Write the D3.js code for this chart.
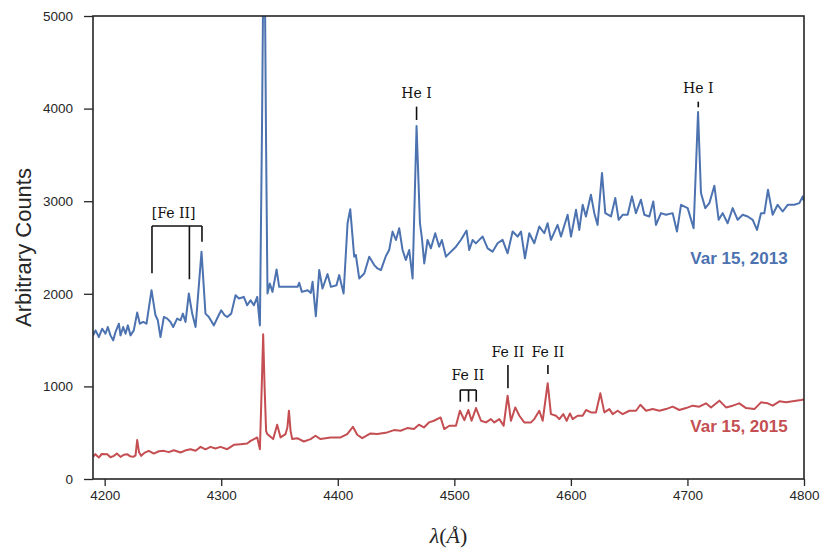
<!DOCTYPE html>
<html>
<head>
	<meta charset="utf-8">
	<title>Var 15 spectra</title>
	<script src="https://cdn.jsdelivr.net/npm/d3@7"></script>
	<style>
		body { margin: 0; background: #fff; }
		svg { display: block; }
	</style>
</head>
<body>
	<div id="chart"></div>
	<script>

		// data

		const wl2013 = [4190.1, 4192.2, 4195.0, 4197.9, 4200.7, 4202.7, 4205.0, 4207.3, 4209.3, 4212.2, 4213.6, 4215.9, 4217.9, 4219.9, 4222.2, 4225.0, 4227.9, 4230.2, 4233.1, 4235.9, 4240.2, 4243.6, 4245.6, 4247.9, 4250.8, 4253.7, 4256.5, 4258.8, 4262.2, 4265.1, 4267.1, 4269.4, 4272.2, 4275.1, 4278.0, 4283.1, 4286.5, 4289.4, 4293.7, 4297.1, 4300.0, 4302.9, 4305.1, 4308.6, 4312.3, 4315.2, 4319.4, 4322.3, 4325.2, 4328.0, 4330.9, 4333.2, 4335.0, 4336.0, 4337.5, 4338.5, 4339.7, 4341.7, 4344.0, 4347.5, 4349.7, 4365.5, 4366.9, 4369.2, 4374.1, 4376.9, 4378.4, 4381.2, 4384.1, 4386.9, 4391.2, 4394.1, 4398.9, 4401.2, 4405.0, 4408.4, 4410.7, 4414.1, 4415.5, 4418.4, 4422.7, 4427.0, 4431.3, 4434.1, 4437.0, 4441.3, 4444.1, 4447.0, 4449.9, 4452.7, 4455.6, 4458.4, 4461.3, 4464.2, 4467.6, 4470.5, 4472.2, 4474.2, 4477.0, 4479.9, 4483.6, 4487.0, 4489.3, 4492.8, 4495.6, 4501.4, 4505.6, 4510.5, 4512.8, 4515.7, 4518.5, 4521.4, 4524.3, 4528.6, 4532.8, 4537.1, 4541.4, 4545.7, 4550.0, 4554.3, 4557.2, 4560.6, 4564.3, 4568.6, 4572.9, 4577.2, 4580.0, 4582.9, 4588.6, 4591.5, 4597.2, 4600.1, 4604.4, 4607.2, 4610.1, 4612.9, 4617.2, 4620.1, 4622.9, 4626.7, 4629.5, 4634.4, 4638.1, 4641.0, 4644.4, 4648.7, 4652.4, 4655.8, 4660.1, 4663.0, 4667.3, 4670.7, 4673.0, 4677.3, 4681.6, 4687.3, 4691.0, 4694.5, 4700.2, 4705.3, 4709.1, 4711.6, 4715.3, 4718.8, 4723.1, 4726.8, 4730.2, 4734.5, 4738.8, 4743.1, 4747.4, 4751.7, 4756.0, 4759.7, 4763.1, 4766.0, 4769.1, 4773.1, 4777.4, 4781.7, 4786.0, 4791.7, 4796.0, 4798.9, 4800.0];
		const flux2013 = [1551, 1605, 1533, 1623, 1569, 1641, 1551, 1497, 1587, 1677, 1551, 1641, 1569, 1659, 1551, 1605, 1797, 1677, 1696, 1677, 2039, 1768, 1714, 1533, 1750, 1732, 1696, 1641, 1732, 1714, 1786, 1696, 2003, 1786, 1641, 2455, 1786, 1750, 1659, 1750, 1822, 1768, 1750, 1786, 1985, 1949, 1967, 1876, 1931, 1876, 1967, 1659, 3800, 5300, 5300, 3600, 2003, 2111, 2021, 2263, 2075, 2075, 2119, 2021, 2039, 2010, 2130, 1757, 2256, 2057, 2213, 2075, 2093, 2202, 2003, 2762, 2914, 2401, 2419, 2166, 2220, 2401, 2310, 2274, 2256, 2408, 2473, 2672, 2581, 2708, 2473, 2365, 2473, 2166, 3811, 2762, 2600, 2328, 2581, 2491, 2654, 2509, 2581, 2401, 2437, 2509, 2581, 2683, 2473, 2581, 2545, 2582, 2618, 2491, 2455, 2546, 2582, 2437, 2672, 2618, 2672, 2383, 2654, 2546, 2726, 2654, 2762, 2582, 2744, 2618, 2853, 2618, 2907, 2690, 2961, 2835, 3070, 2871, 2744, 3305, 2871, 2835, 3034, 2799, 2853, 2853, 3052, 2871, 3016, 2853, 2835, 2997, 2744, 2871, 2853, 2871, 2672, 2961, 2925, 2708, 3963, 3088, 2925, 2979, 3167, 2799, 2871, 2762, 2925, 2799, 2853, 2835, 2799, 2690, 2871, 2871, 3124, 2853, 2961, 2889, 2961, 2961, 2979, 3052, 3000];

		const wl2015 = [4190.1, 4192.0, 4195.0, 4197.5, 4202.2, 4205.0, 4207.9, 4210.5, 4213.6, 4216.5, 4219.3, 4222.0, 4224.5, 4226.5, 4227.9, 4229.5, 4231.3, 4234.5, 4237.9, 4242.2, 4246.5, 4250.8, 4255.0, 4259.4, 4265.1, 4269.5, 4273.7, 4278.0, 4282.3, 4286.5, 4290.8, 4295.0, 4299.4, 4305.1, 4310.9, 4316.6, 4322.3, 4325.2, 4330.9, 4333.2, 4335.0, 4336.0, 4337.2, 4338.5, 4339.5, 4344.6, 4348.0, 4350.9, 4355.2, 4356.8, 4358.1, 4359.5, 4360.9, 4365.2, 4370.9, 4376.7, 4380.9, 4385.2, 4393.8, 4402.4, 4408.1, 4413.0, 4416.7, 4421.0, 4428.1, 4433.9, 4442.4, 4448.2, 4453.9, 4459.6, 4465.3, 4469.6, 4473.9, 4478.2, 4482.5, 4488.2, 4491.4, 4495.7, 4501.4, 4504.8, 4508.6, 4512.0, 4514.8, 4518.6, 4522.9, 4527.1, 4531.4, 4534.3, 4538.6, 4542.3, 4545.7, 4548.6, 4552.3, 4555.8, 4560.0, 4565.8, 4568.6, 4572.9, 4575.8, 4580.1, 4582.9, 4587.2, 4590.1, 4593.5, 4596.4, 4599.2, 4601.5, 4605.8, 4610.1, 4613.0, 4617.3, 4621.5, 4625.3, 4628.7, 4633.0, 4635.9, 4640.1, 4644.4, 4650.2, 4655.9, 4659.6, 4664.5, 4670.2, 4675.9, 4681.6, 4687.3, 4693.1, 4698.8, 4704.5, 4710.2, 4715.9, 4720.2, 4727.4, 4733.1, 4738.8, 4744.5, 4750.3, 4757.4, 4763.1, 4768.9, 4773.2, 4778.9, 4784.6, 4790.3, 4797.4, 4800.0];
		const flux2015 = [239, 268, 232, 270, 268, 235, 250, 275, 239, 262, 268, 245, 239, 255, 420, 290, 250, 285, 304, 275, 300, 304, 290, 311, 286, 310, 322, 305, 347, 320, 347, 330, 347, 322, 369, 376, 384, 412, 449, 322, 1100, 1562, 1000, 520, 485, 431, 586, 449, 485, 560, 738, 520, 431, 441, 405, 431, 467, 431, 449, 449, 485, 564, 478, 441, 492, 485, 503, 528, 521, 550, 539, 586, 557, 611, 629, 665, 539, 575, 575, 737, 636, 745, 629, 766, 629, 611, 647, 611, 647, 575, 900, 629, 773, 683, 611, 611, 647, 737, 629, 1034, 701, 683, 647, 701, 629, 708, 647, 683, 683, 745, 719, 719, 925, 719, 755, 701, 737, 701, 737, 737, 802, 737, 755, 737, 755, 781, 745, 766, 792, 781, 817, 773, 846, 773, 792, 817, 766, 755, 828, 817, 792, 839, 828, 839, 853, 860];

		const xTicks = [4200, 4300, 4400, 4500, 4600, 4700, 4800];
		const yTicks = [0, 1000, 2000, 3000, 4000, 5000];

		// line identifications: label, wavelengths of the marks, mark top / bottom, label baseline
		const lineLabels = ["[Fe II]", "He I", "He I", "Fe II", "Fe II", "Fe II"];
		const lineWaves = [[4240.6, 4272.7, 4283.5], [4467.6], [4709.3], [4505.1, 4512.2, 4518.8], [4546.0], [4580.3]];
		const lineTops = [2732, 4021, 4075, 961, 1231, 1231];
		const lineBottoms = [[2222, 2157, 2563], [3877], [4014], [835, 835, 835], [980], [1134]];
		const lineTextY = [2819, 4115, 4169, 1069, 1318, 1318];
		const lineTextX = [4259.2, 4467.6, 4709.3, 4511.6, 4546.0, 4580.3];

		const seriesNames = ["Var 15, 2013", "Var 15, 2015"];
		const seriesLabelY = [2322, 508];

		const width = 830;
		const height = 560;
		const margin = {top: 16, right: 26, bottom: 81, left: 93};
		const blue = "#4c72b0";
		const red = "#c44e52";
		const ink = "#262626";

		const x = d3.scaleLinear().domain([4190, 4800]).range([margin.left, width - margin.right]);
		const y = d3.scaleLinear().domain([0, 5000]).range([height - margin.bottom, margin.top]);

		const svg = d3.select("#chart").append("svg")
			.attr("width", width)
			.attr("height", height)
			.attr("font-family", "'Liberation Sans', Arial, sans-serif");

		svg.append("clipPath").attr("id", "plot-clip")
			.append("rect")
			.attr("x", margin.left).attr("y", margin.top)
			.attr("width", width - margin.left - margin.right)
			.attr("height", height - margin.top - margin.bottom);

		const line = d3.line().x(d => x(d[0])).y(d => y(d[1]));

		const series = [
			{ pts: d3.zip(wl2013, flux2013), color: blue },
			{ pts: d3.zip(wl2015, flux2015), color: red },
		];

		svg.append("g")
			.attr("clip-path", "url(#plot-clip)")
			.selectAll("path")
			.data(series)
			.join("path")
			.attr("fill", "none")
			.attr("stroke", d => d.color)
			.attr("stroke-width", 2)
			.attr("stroke-linejoin", "round")
			.attr("d", d => line(d.pts));

		// axes
		const xAxis = svg.append("g")
			.attr("transform", `translate(0,${y(0)})`)
			.call(d3.axisBottom(x).tickValues(xTicks).tickFormat(d3.format("d")).tickSize(7).tickPadding(4).tickSizeOuter(0));
		const yAxis = svg.append("g")
			.attr("transform", `translate(${x.range()[0]},0)`)
			.call(d3.axisLeft(y).tickValues(yTicks).tickFormat(d3.format("d")).tickSize(9).tickPadding(11).tickSizeOuter(0));

		for (const g of [xAxis, yAxis]) {
			g.select(".domain").remove();
			g.selectAll(".tick line").attr("stroke", ink).attr("stroke-width", 1.3);
			g.selectAll(".tick text")
				.attr("fill", ink)
				.attr("font-size", 13.5)
				.attr("font-family", "'Liberation Sans', Arial, sans-serif");
		}

		// frame
		svg.append("rect")
			.attr("x", x.range()[0]).attr("y", y.range()[1])
			.attr("width", x.range()[1] - x.range()[0])
			.attr("height", y.range()[0] - y.range()[1])
			.attr("fill", "none")
			.attr("stroke", ink)
			.attr("stroke-width", 1.6);

		// line identifications
		const ann = svg.append("g")
			.attr("stroke", "#111")
			.attr("stroke-width", 1.6)
			.attr("font-family", "'DejaVu Serif', serif")
			.attr("font-size", 14);

		lineLabels.forEach((lab, i) => {
			const ws = lineWaves[i];
			if (ws.length > 1) {
				ann.append("line")
					.attr("x1", x(ws[0])).attr("x2", x(ws[ws.length - 1]))
					.attr("y1", y(lineTops[i])).attr("y2", y(lineTops[i]));
			}
			ws.forEach((w, j) => {
				ann.append("line")
					.attr("x1", x(w)).attr("x2", x(w))
					.attr("y1", y(lineTops[i])).attr("y2", y(lineBottoms[i][j]));
			});
			ann.append("text")
				.attr("stroke", "none")
				.attr("fill", "#111")
				.attr("text-anchor", "middle")
				.attr("x", x(lineTextX[i]))
				.attr("y", y(lineTextY[i]))
				.text(lab);
		});

		// series labels
		svg.append("g")
			.selectAll("text")
			.data(seriesNames)
			.join("text")
			.attr("x", x(4786))
			.attr("y", (d, i) => y(seriesLabelY[i]))
			.attr("text-anchor", "end")
			.attr("font-size", 17)
			.attr("font-weight", "bold")
			.attr("fill", (d, i) => series[i].color)
			.text(d => d);

		// axis titles
		svg.append("text")
			.attr("transform", `translate(31,${(y.range()[0] + y.range()[1]) / 2}) rotate(-90)`)
			.attr("text-anchor", "middle")
			.attr("font-size", 22)
			.attr("fill", ink)
			.text("Arbitrary Counts");

		const xt = svg.append("text")
			.attr("x", (x.range()[0] + x.range()[1]) / 2)
			.attr("y", 543)
			.attr("text-anchor", "middle")
			.attr("font-family", "'Liberation Serif', 'DejaVu Serif', serif")
			.attr("font-size", 22)
			.attr("fill", ink);
		xt.append("tspan").attr("font-style", "italic").text("λ");
		xt.append("tspan").text("(");
		xt.append("tspan").attr("font-style", "italic").text("Å");
		xt.append("tspan").text(")");

	</script>
</body>
</html>
